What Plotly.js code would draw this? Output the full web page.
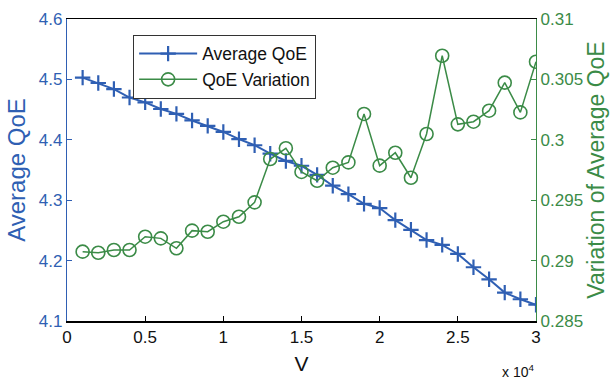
<!DOCTYPE html>
<html><head><meta charset="utf-8">
<script src="https://cdn.plot.ly/plotly-3.0.1.min.js"></script>
<style>html,body{margin:0;padding:0;background:#fff}#chart{width:611px;height:380px}</style>
</head><body><div id="chart"></div>
<script>
const V = [1000,2000,3000,4000,5000,6000,7000,8000,9000,10000,11000,12000,13000,14000,15000,16000,17000,18000,19000,20000,21000,22000,23000,24000,25000,26000,27000,28000,29000,30000];
const avgQoE = [4.503,4.494,4.484,4.470,4.462,4.451,4.443,4.432,4.423,4.413,4.401,4.391,4.377,4.365,4.357,4.342,4.324,4.310,4.294,4.287,4.267,4.251,4.234,4.226,4.211,4.189,4.169,4.147,4.136,4.127];
const qoeVar = [0.29074,0.29065,0.29088,0.29088,0.29198,0.29184,0.29102,0.29248,0.29239,0.29322,0.29363,0.29482,0.29841,0.29930,0.29734,0.29661,0.29769,0.29813,0.30214,0.29786,0.29893,0.29686,0.30048,0.30696,0.30128,0.30150,0.30241,0.30473,0.30227,0.30646];
const xTickVals = [0,5000,10000,15000,20000,25000,30000];
const xTickText = ['0','0.5','1','1.5','2','2.5','3'];
const blue = '#2f5fb3', green = '#3b8b47';
const traces = [
  {x: V, y: avgQoE, name: 'Average QoE', type: 'scatter', mode: 'lines+markers',
   line: {color: blue, width: 2}, marker: {symbol: 'cross-thin-open', size: 11, line: {color: blue, width: 2.2}}},
  {x: V, y: qoeVar, name: 'QoE Variation', type: 'scatter', mode: 'lines+markers', yaxis: 'y2',
   line: {color: green, width: 1.5}, marker: {symbol: 'circle-open', size: 13, color: green, line: {color: green, width: 1.6}}}
];
const layout = {
  width: 611, height: 380,
  margin: {l: 67, r: 75, t: 19, b: 59},
  font: {family: 'Liberation Sans, Arial, sans-serif', size: 17},
  paper_bgcolor: '#fff', plot_bgcolor: '#fff',
  showlegend: true,
  legend: {x: 0.141, y: 0.948, xanchor: 'left', yanchor: 'top', bgcolor: '#fff', itemwidth: 58,
    bordercolor: '#333', borderwidth: 1, font: {size: 17.5, color: '#111'}, tracegroupgap: 0},
  xaxis: {range: [0, 30000], tickvals: xTickVals, ticktext: xTickText, ticks: 'inside', ticklen: 5,
    tickcolor: '#000', showline: true, linecolor: '#000', linewidth: 1.5, mirror: true, showgrid: false, zeroline: false,
    tickfont: {size: 17, color: '#111'}, title: {text: 'V', font: {size: 21, color: '#111'}, standoff: 10}},
  yaxis: {range: [4.1, 4.6], dtick: 0.1, tickformat: '.1f', ticks: 'inside', ticklen: 5, tickcolor: blue,
    showline: true, linecolor: blue, linewidth: 1.2, showgrid: false, zeroline: false,
    tickfont: {size: 17, color: blue}, title: {text: 'Average QoE', font: {size: 24, color: blue}, standoff: 6}},
  yaxis2: {range: [0.285, 0.31], tickvals: [0.285,0.29,0.295,0.3,0.305,0.31], ticktext: ['0.285','0.29','0.295','0.3','0.305','0.31'],
    overlaying: 'y', side: 'right', ticks: 'inside', ticklen: 5, tickcolor: green,
    showline: true, linecolor: green, linewidth: 1.2, showgrid: false, zeroline: false,
    tickfont: {size: 17, color: green}, title: {text: 'Variation of Average QoE', font: {size: 23, color: green}, standoff: 2}},
  annotations: [{xref: 'paper', yref: 'paper', x: 1.0, y: -0.13, xanchor: 'right', yanchor: 'top', showarrow: false,
    text: 'x 10<sup>4</sup>', font: {size: 14, color: '#111'}}]
};
Plotly.newPlot('chart', traces, layout, {displayModeBar: false, staticPlot: true});
</script></body></html>
